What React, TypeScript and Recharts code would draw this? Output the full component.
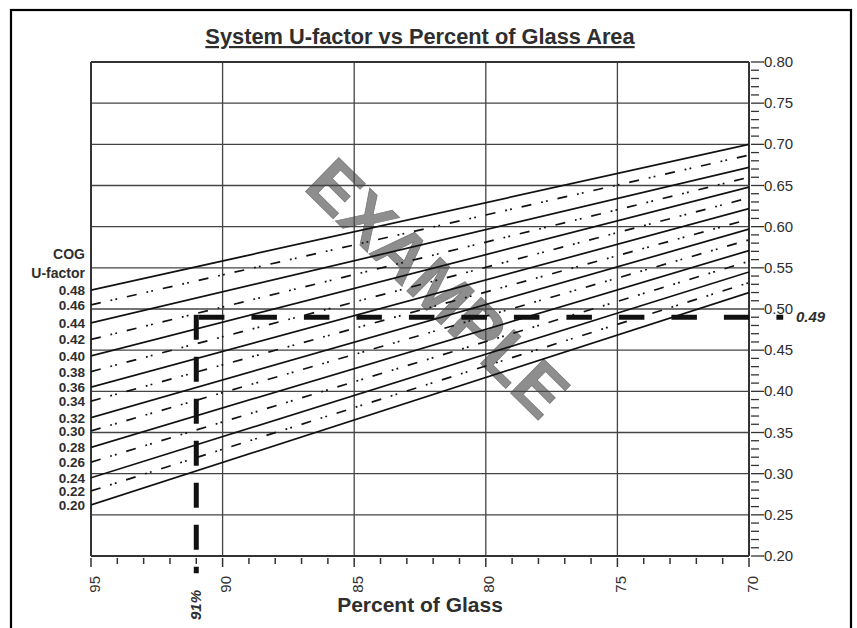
import React from 'react'
import { LineChart, Line, XAxis, YAxis, ReferenceLine, LabelList } from 'recharts'

// COG U-factor curves, read at 95% and 70% glass
const cogLabels = ['0.48', '0.46', '0.44', '0.42', '0.40', '0.38', '0.36', '0.34', '0.32', '0.30', '0.28', '0.26', '0.24', '0.22', '0.20']
const uAt95 = [0.523, 0.505, 0.483, 0.463, 0.443, 0.424, 0.405, 0.388, 0.368, 0.352, 0.332, 0.314, 0.295, 0.279, 0.262]
const uAt70 = [0.700, 0.687, 0.672, 0.660, 0.648, 0.635, 0.622, 0.609, 0.597, 0.584, 0.571, 0.558, 0.545, 0.532, 0.520]
const pctEnds = [95, 70]

const xMajorTicks = [95, 90, 85, 80, 75, 70]
const yMajorTicks = [0.80, 0.75, 0.70, 0.65, 0.60, 0.55, 0.50, 0.45, 0.40, 0.35, 0.30, 0.25, 0.20]
const xGrid = [90, 85, 80, 75]
const yGrid = [0.75, 0.70, 0.65, 0.60, 0.55, 0.50, 0.45, 0.40, 0.35, 0.30, 0.25]

// worked example: 91% glass -> 0.49
const readPct = 91
const readU = 0.49
const readPctEnd = 68.7
const readUEnd = 0.179

const xTicks = Array.from({ length: 26 }, (_, i) => 95 - i)
const yTicks = Array.from({ length: 61 }, (_, i) => Math.round((0.2 + i * 0.01) * 100) / 100)

const data = pctEnds.map((pct, r) => {
  const row: Record<string, number> = { pct }
  cogLabels.forEach((_, i) => { row['c' + i] = r === 0 ? uAt95[i] : uAt70[i] })
  return row
})

const FONT = "'Liberation Sans', Arial, Helvetica, sans-serif"
const INK = '#2e2e2e'

function XTick(props: any) {
  const { x, y, payload } = props
  const v = payload.value
  const major = v % 5 === 0
  return (
    <g>
      <line x1={x} x2={x} y1={y} y2={y + (major ? 9 : 6)} stroke="#333" strokeWidth={1.5} />
      {major && (
        <text x={x} y={y + 18} transform={`rotate(-90 ${x} ${y + 18})`} textAnchor="end" dy={8.5}
          fontFamily={FONT} fontSize={15} fill={INK}>{v}</text>
      )}
    </g>
  )
}

function YTick(props: any) {
  const { x, y, payload } = props
  const v = payload.value
  const major = Math.abs(v * 20 - Math.round(v * 20)) < 1e-6
  return (
    <g>
      <line x1={x} x2={x + (major ? 13 : 8)} y1={y} y2={y} stroke="#333" strokeWidth={1.3} />
      {major && (
        <text x={x + 13} y={y} dy={5} fontFamily={FONT} fontSize={15} fill={INK}>{v.toFixed(2)}</text>
      )}
    </g>
  )
}

const cogLabel = (i: number) => (props: any) => {
  const { x, y } = props
  if (Number(x) > 120) return null
  return (
    <text x={x - 6} y={y} dy={5} textAnchor="end" fontFamily={FONT} fontSize={13.5} fontWeight="bold" fill={INK}>
      {cogLabels[i]}
    </text>
  )
}

export default function App() {
  return (
    <div style={{ position: 'absolute', left: 0, top: 0, width: 857, height: 628, background: '#fff', fontFamily: FONT }}>
      <svg width={857} height={628} style={{ position: 'absolute', left: 0, top: 0 }}>
        <rect x={11} y={10} width={840} height={700} fill="none" stroke="#000" strokeWidth={2.2} />
        <text x={420} y={44} textAnchor="middle" fontSize={21.8} fontWeight="bold" fill={INK} textDecoration="underline">
          System U-factor vs Percent of Glass Area
        </text>
        <text x={438} y={288} textAnchor="middle" dy={24} transform="rotate(44.5 438 288)" fontSize={69}
          fontWeight="bold" fill="#8e8e8e" stroke="#7a7a7a" strokeWidth={0.8}>EXAMPLE</text>
        <text x={85} y={259} textAnchor="end" fontSize={14} fontWeight="bold" fill={INK}>COG</text>
        <text x={85} y={278} textAnchor="end" fontSize={14} fontWeight="bold" fill={INK}>U-factor</text>
        <text x={796} y={322} fontSize={15} fontWeight="bold" fontStyle="italic" fill={INK}>0.49</text>
        <text x={196} y={590} dy={5} textAnchor="end" transform="rotate(-90 196 590)" fontSize={15}
          fontWeight="bold" fontStyle="italic" fill={INK}>91%</text>
        <text x={420} y={612} textAnchor="middle" fontSize={21} fontWeight="bold" fill={INK}>Percent of Glass</text>
      </svg>
      <div style={{ position: 'absolute', left: 0, top: 0 }}>
        <LineChart width={857} height={628} data={data} margin={{ top: 62, right: 48, bottom: 32, left: 91 }}>
          <XAxis dataKey="pct" type="number" domain={[70, 95]} reversed allowDataOverflow ticks={xTicks}
            interval={0} tickSize={0} tickLine={false} axisLine={false} height={40} tick={(p: any) => <XTick {...p} />} />
          <YAxis orientation="right" type="number" domain={[0.2, 0.8]} allowDataOverflow ticks={yTicks}
            interval={0} tickSize={0} tickLine={false} axisLine={false} width={60} tick={(p: any) => <YTick {...p} />} />
          {xGrid.map(v => <ReferenceLine key={'gx' + v} x={v} stroke="#444" strokeWidth={1.3} ifOverflow="visible" />)}
          {yGrid.map(v => <ReferenceLine key={'gy' + v} y={v} stroke="#444" strokeWidth={1.3} ifOverflow="visible" />)}
          <ReferenceLine x={xMajorTicks[0]} stroke="#333" strokeWidth={2} ifOverflow="visible" />
          <ReferenceLine x={xMajorTicks[xMajorTicks.length - 1]} stroke="#333" strokeWidth={2} ifOverflow="visible" />
          <ReferenceLine y={yMajorTicks[0]} stroke="#333" strokeWidth={2} ifOverflow="visible" />
          <ReferenceLine y={yMajorTicks[yMajorTicks.length - 1]} stroke="#333" strokeWidth={2} ifOverflow="visible" />
          {cogLabels.map((c, i) => (
            <Line key={c} dataKey={'c' + i} type="linear" stroke="#111" strokeWidth={1.7}
              strokeDasharray={i % 2 === 0 ? undefined : '10 10 1.8 3.2 1.8 10'}
              dot={false} activeDot={false} isAnimationActive={false}>
              <LabelList content={cogLabel(i)} />
            </Line>
          ))}
          <ReferenceLine segment={[{ x: readPct - 0.1, y: readU }, { x: readPctEnd, y: readU }]} stroke="#111"
            strokeWidth={5} strokeDasharray="25.5 27" ifOverflow="visible" />
          <ReferenceLine segment={[{ x: readPct, y: readU + 0.003 }, { x: readPct, y: readUEnd }]} stroke="#111"
            strokeWidth={5} strokeDasharray="25 17" ifOverflow="visible" />
        </LineChart>
      </div>
    </div>
  )
}
